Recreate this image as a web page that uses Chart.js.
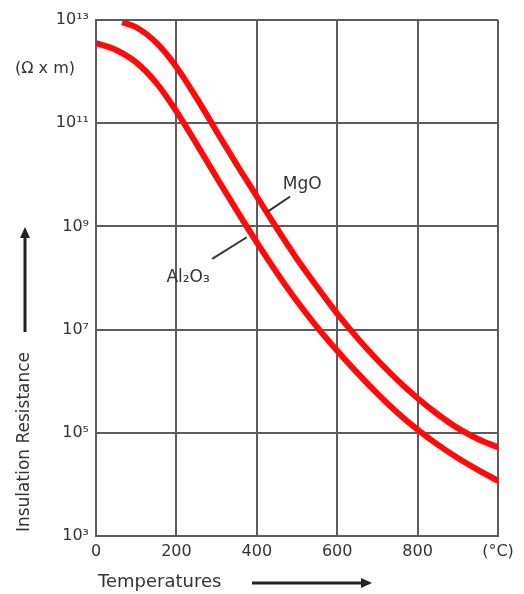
<!DOCTYPE html>
<html>
<head>
<meta charset="utf-8">
<script src="https://cdn.jsdelivr.net/npm/chart.js@4/dist/chart.umd.min.js"></script>
<style>
  body { margin: 0; background: #fff; }
  canvas { display: block; }
</style>
</head>
<body>
<canvas id="resistance_graph" width="524" height="594"></canvas>
<script>
// temperatures (°C) and insulation resistance (Ω x m)
var alTemps = [0, 50, 100, 150, 200, 250, 300, 350, 400, 450, 500, 550, 600, 650, 700, 750, 800, 850, 900, 950, 1000];
var al2o3 = [3.55e12, 2.63e12, 1.51e12, 6.03e11, 1.70e11, 3.98e10, 8.91e9, 2.04e9, 4.90e8, 1.26e8, 3.55e7, 1.12e7, 3.89e6, 1.45e6, 5.75e5, 2.45e5, 1.15e5, 5.89e4, 3.24e4, 1.91e4, 1.17e4];

var mgoTemps = [65, 100, 150, 200, 250, 300, 350, 400, 450, 500, 550, 600, 650, 700, 750, 800, 850, 900, 950, 1000];
var mgo = [9.12e12, 7.24e12, 3.63e12, 1.23e12, 3.09e11, 6.92e10, 1.58e10, 3.80e9, 9.12e8, 2.34e8, 6.76e7, 2.04e7, 6.92e6, 2.57e6, 1.05e6, 4.68e5, 2.29e5, 1.23e5, 7.59e4, 5.25e4];

var yTicks = [1e3, 1e5, 1e7, 1e9, 1e11, 1e13];
var xLastLabel = '(°C)';

var gridColor = '#5c5c5c';
var textColor = '#333';
var font = 'DejaVu Sans';

function toPoints(xs, ys) {
  var pts = [];
  for (var i in xs) {
    pts.push({ x: xs[i], y: ys[i] });
  }
  return pts;
}

var sup = { '0': '⁰', '1': '¹', '2': '²', '3': '³', '4': '⁴', '5': '⁵', '6': '⁶', '7': '⁷', '8': '⁸', '9': '⁹' };
function powLabel(v) {
  var e = String(Math.round(Math.log10(v)));
  var s = '';
  for (var i = 0; i < e.length; i++) s += sup[e[i]];
  return '10' + s;
}

function arrow(ctx, x1, y1, x2, y2) {
  var a = Math.atan2(y2 - y1, x2 - x1);
  var len = 11, w = 5;
  ctx.beginPath();
  ctx.moveTo(x1, y1);
  ctx.lineTo(x2 - Math.cos(a) * len, y2 - Math.sin(a) * len);
  ctx.stroke();
  ctx.beginPath();
  ctx.moveTo(x2, y2);
  ctx.lineTo(x2 - Math.cos(a) * len - Math.sin(a) * w, y2 - Math.sin(a) * len + Math.cos(a) * w);
  ctx.lineTo(x2 - Math.cos(a) * len + Math.sin(a) * w, y2 - Math.sin(a) * len - Math.cos(a) * w);
  ctx.closePath();
  ctx.fill();
}

// axis titles, unit label and the curve labels
var decorations = {
  id: 'decorations',
  afterDraw: function(chart) {
    var ctx = chart.ctx;
    var xs = chart.scales.x, ys = chart.scales.y;
    var px = function(t) { return xs.getPixelForValue(t); };
    var py = function(l) { return ys.getPixelForValue(Math.pow(10, l)); };

    ctx.save();
    ctx.fillStyle = textColor;
    ctx.strokeStyle = textColor;
    ctx.textBaseline = 'middle';

    // unit
    ctx.font = '16px ' + font;
    ctx.textAlign = 'center';
    ctx.fillText('(Ω x m)', 45, 69);

    // curve labels and leaders
    ctx.font = '17px ' + font;
    ctx.fillText('MgO', px(513), py(9.82));
    ctx.fillText('Al₂O₃', px(229), py(8.0));
    ctx.lineWidth = 2;
    ctx.beginPath();
    ctx.moveTo(px(483), py(9.58));
    ctx.lineTo(px(428), py(9.29));
    ctx.moveTo(px(375), py(8.79));
    ctx.lineTo(px(289), py(8.37));
    ctx.stroke();

    // x title
    ctx.font = '18px ' + font;
    ctx.textAlign = 'left';
    ctx.fillText('Temperatures', 98, 582);
    ctx.lineWidth = 3;
    ctx.fillStyle = '#222';
    ctx.strokeStyle = '#222';
    arrow(ctx, 252, 583, 372, 583);

    // y title
    ctx.save();
    ctx.translate(25, 442);
    ctx.rotate(-Math.PI / 2);
    ctx.fillStyle = textColor;
    ctx.font = '17px ' + font;
    ctx.textAlign = 'center';
    ctx.fillText('Insulation Resistance', 0, 0);
    ctx.restore();
    arrow(ctx, 25, 332, 25, 227);

    ctx.restore();
  }
};

var chartdata = {
  datasets: [
    {
      label: 'Al2O3',
      data: toPoints(alTemps, al2o3),
      borderColor: '#ff0a0a',
      borderWidth: 6,
      pointRadius: 0,
      fill: false,
      cubicInterpolationMode: 'monotone'
    },
    {
      label: 'MgO',
      data: toPoints(mgoTemps, mgo),
      borderColor: '#ff0a0a',
      borderWidth: 6,
      pointRadius: 0,
      fill: false,
      cubicInterpolationMode: 'monotone'
    }
  ]
};

var ctx = document.getElementById('resistance_graph');

var ResistanceGraph = new Chart(ctx, {
  type: 'line',
  data: chartdata,
  options: {
    responsive: false,
    animation: false,
    devicePixelRatio: 1,
    layout: { padding: { top: 20, right: 26, left: 0, bottom: 0 } },
    plugins: {
      legend: { display: false },
      tooltip: { enabled: false }
    },
    scales: {
      x: {
        type: 'linear',
        min: 0,
        max: 1000,
        ticks: {
          stepSize: 200,
          color: textColor,
          font: { family: font, size: 16 },
          padding: 6,
          maxRotation: 0,
          callback: function(v) { return v === 1000 ? xLastLabel : v; }
        },
        grid: { color: gridColor, lineWidth: 2, drawTicks: false },
        border: { color: gridColor, width: 2 },
        afterFit: function(scale) { scale.height = 58; }
      },
      y: {
        type: 'logarithmic',
        min: 1e3,
        max: 1e13,
        afterBuildTicks: function(scale) {
          scale.ticks = yTicks.map(function(v) { return { value: v, major: true }; });
        },
        ticks: {
          color: textColor,
          font: { family: font, size: 16 },
          padding: 7,
          callback: function(v) { return powLabel(v); }
        },
        grid: { color: gridColor, lineWidth: 2, drawTicks: false },
        border: { color: gridColor, width: 2 },
        afterFit: function(scale) { scale.width = 96; }
      }
    }
  },
  plugins: [decorations]
});
</script>
</body>
</html>
